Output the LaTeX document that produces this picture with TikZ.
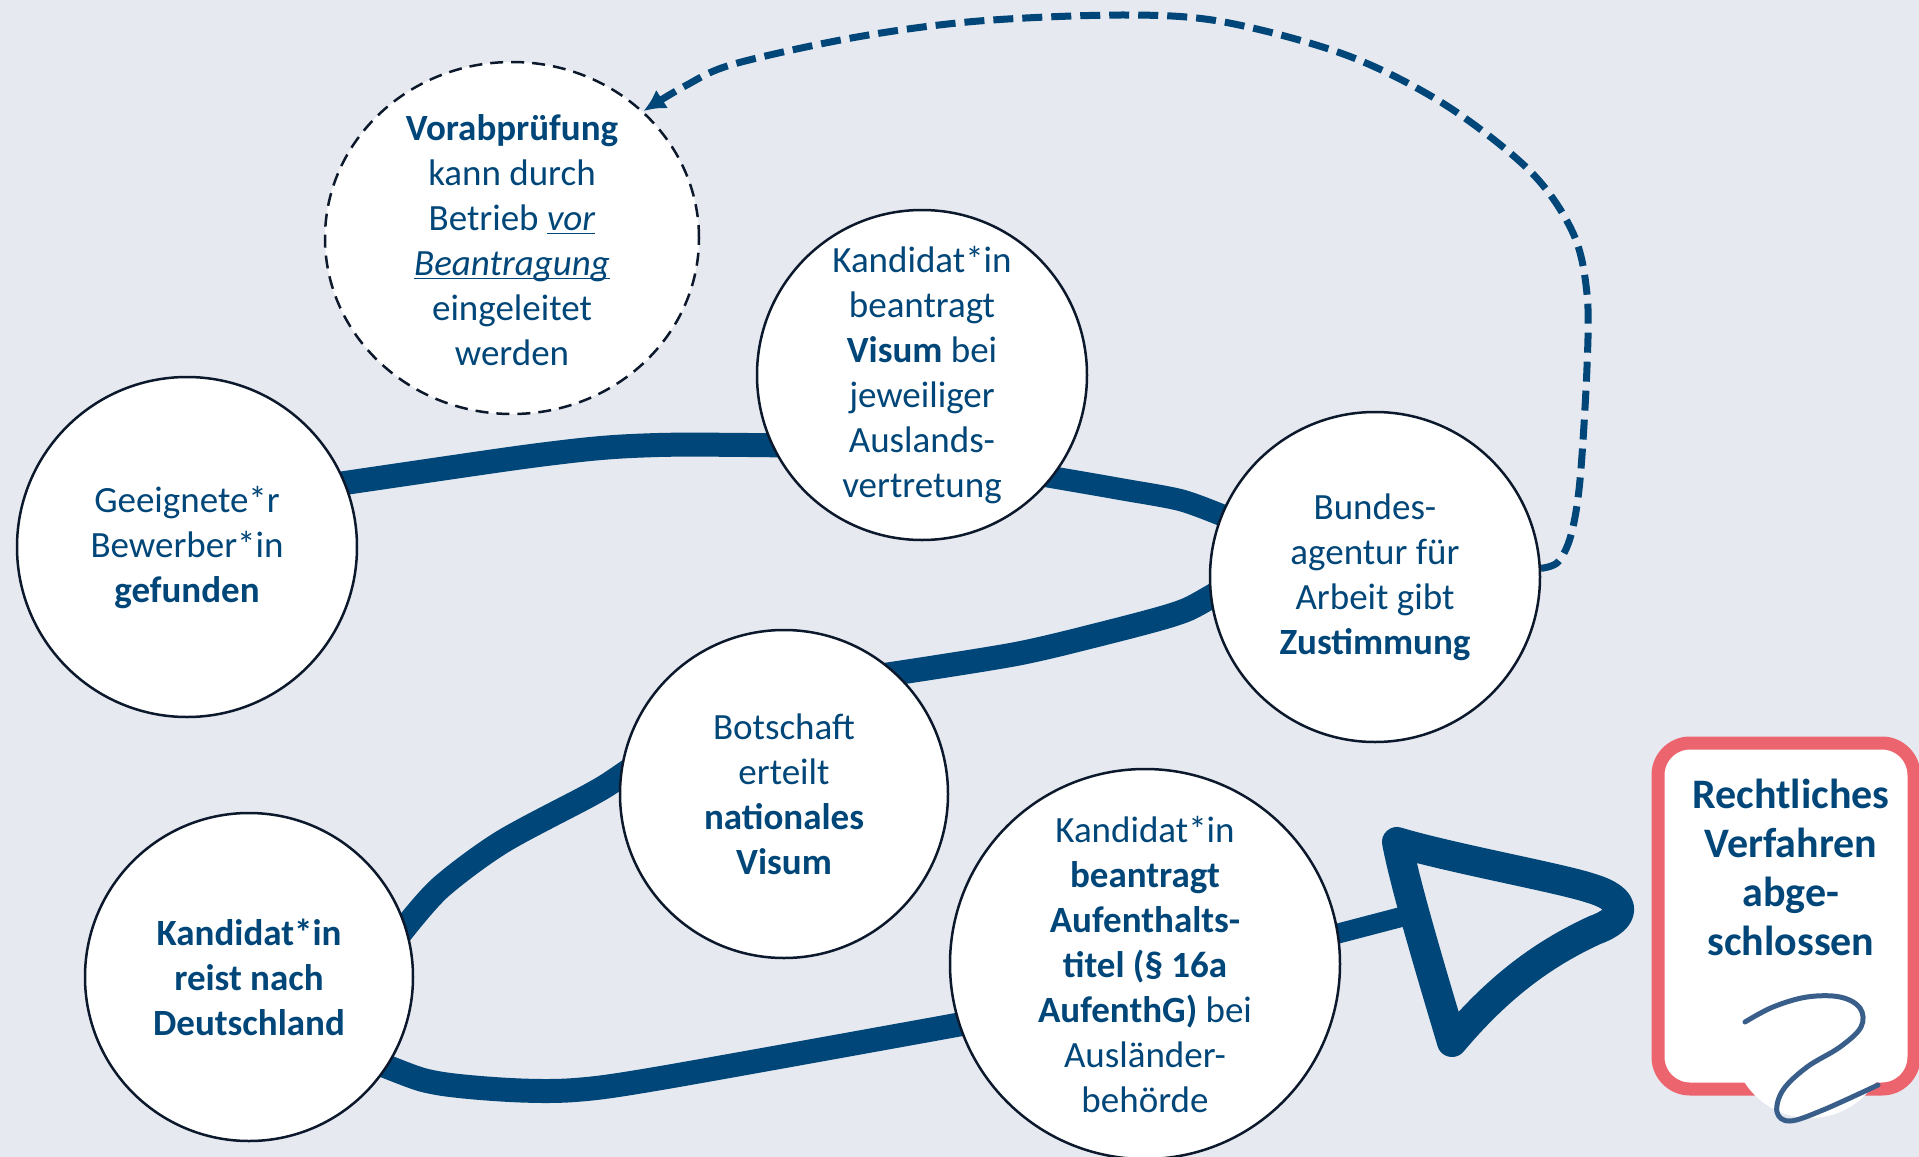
\documentclass[tikz,border=0pt]{standalone}
\usepackage{fontspec}
\setmainfont{Carlito}
\usetikzlibrary{arrows.meta,shapes.geometric}
\definecolor{bgc}{RGB}{230,233,239}
\definecolor{navy}{RGB}{0,70,120}
\definecolor{edge}{RGB}{12,24,44}
\definecolor{boxred}{RGB}{236,100,110}
\definecolor{sigblue}{RGB}{58,94,138}
\pgfdeclarelayer{bg}
\pgfsetlayers{bg,main}
\newcommand\ulx[1]{\underline{\smash{#1}}}
\begin{document}
\begin{tikzpicture}[x=0.5pt,y=-0.5pt,
  stepnode/.style={circle, draw=edge, line width=1.25pt, fill=white, inner sep=0pt,
    align=center, text=navy, font=\fontsize{18.5pt}{22.5pt}\selectfont},
  txtnode/.style={inner sep=0pt, align=center, text=navy, font=\fontsize{18.5pt}{22.5pt}\selectfont},
  conn/.style={draw=navy, line width=12pt, shorten <=-8pt, shorten >=-8pt},
  dashconn/.style={draw=navy, line width=3.5pt, dash pattern=on 10pt off 4.5pt,
    -{Latex[length=11pt,width=11pt]}},
  tristyle/.style={draw=navy, line width=15pt, line cap=round, line join=round},
]
\useasboundingbox (0,0) rectangle (1919,1157);
\begin{pgfonlayer}{bg}
  \fill[bgc] (0,0) rectangle (1919,1157);
\end{pgfonlayer}

% nodes
\node[stepnode, minimum size=170pt] (geeig) at (187,547)
  {Geeignete*r\\Bewerber*in\\\textbf{gefunden}};
\node[ellipse, draw=edge, line width=1.25pt, dash pattern=on 6.5pt off 4pt, fill=white,
  minimum width=187pt, minimum height=176pt, inner sep=0pt] (vorab) at (512,238) {};
\node[txtnode] (vorabtxt) at (512,240)
  {\textbf{Vorabprüfung}\\kann durch\\Betrieb \ulx{\textit{vor}}\\\ulx{\textit{Beantragung}}\\eingeleitet\\werden};
\node[stepnode, minimum size=165pt] (visum) at (922,375)
  {Kandidat*in\\beantragt\\\textbf{Visum} bei\\jeweiliger\\Auslands-\\vertretung};
\node[stepnode, minimum size=165pt] (bundes) at (1375,577)
  {Bundes-\\agentur für\\Arbeit gibt\\\textbf{Zustimmung}};
\node[stepnode, minimum size=164pt] (botsch) at (784,794)
  {Botschaft\\erteilt\\\textbf{nationales}\\\textbf{Visum}};
\node[stepnode, minimum size=164pt, font=\bfseries\fontsize{18.5pt}{22.5pt}\selectfont] (reist) at (249,977)
  {Kandidat*in\\reist nach\\Deutschland};
\node[stepnode, minimum size=195pt] (aufent) at (1145,964)
  {Kandidat*in\\\textbf{beantragt}\\\textbf{Aufenthalts-}\\\textbf{titel (§ 16a}\\\textbf{AufenthG)} bei\\Ausländer-\\behörde};

% final box
\node[draw=boxred, line width=6.5pt, rounded corners=16pt, fill=white,
  minimum width=128pt, minimum height=173pt, inner sep=0pt] (box) at (1786,916) {};
\node[circle, fill=white, minimum size=78pt, inner sep=0pt] (sigbg) at (1810,1040) {};
\node[inner sep=0pt, align=center, text=navy, font=\bfseries\fontsize{21pt}{24.5pt}\selectfont]
  (recht) at (1791,867) {Rechtliches\\Verfahren\\abge-\\schlossen};
\draw[sigblue, line width=2.5pt, line cap=round, line join=round]
  plot[smooth, tension=0.6] coordinates {(1745,1022) (1773,1007) (1807,997) (1840,997)
  (1860,1008) (1861,1027) (1840,1047) (1807,1067) (1783,1090) (1777,1112) (1790,1121)
  (1823,1110) (1878,1085)};

% triangle arrow
\coordinate (tA) at (1397,842);
\coordinate (tC) at (1452,1042);
\coordinate (tin) at (1405,916);
\draw[tristyle] (tC) .. controls (1432,975) and (1405,885) .. (tA)
  .. controls (1450,858) and (1560,878) .. (1590,888)
  .. controls (1628,899) and (1628,918) .. (1595,930)
  .. controls (1545,953) and (1500,985) .. (tC);

% dashed feedback arrow
\draw[dashconn] plot[smooth, tension=0.55] coordinates {(bundes.3) (1558,562) (1571,535)
  (1580,480) (1587,367) (1587,294) (1573,233) (1530,171) (1444,104) (1346,55)
  (1224,22) (1126,15) (979,21) (857,37) (734,64) (685,86) (vorab.44)};

% thick connectors
\begin{pgfonlayer}{bg}
\draw[conn] plot[smooth, tension=0.5] coordinates {(geeig.22) (563,452) (658,445) (visum.205)};
\draw[conn, line width=11pt] plot[smooth] coordinates {(visum.-38) (1120,489) (1180,500) (bundes.158)};
\draw[conn] plot[smooth] coordinates {(bundes.187) (1175,614) (1101,634) (1016,654) (botsch.47)};
\draw[conn] plot[smooth] coordinates {(botsch.174) (590,795) (502,842) (441,887) (reist.18)};
\draw[conn] plot[smooth] coordinates {(reist.-33) (437,1083) (510,1090) (575,1090) (661,1078) (aufent.198)};
\draw[conn, line width=10pt] (aufent.9) -- (tin);
\end{pgfonlayer}
\end{tikzpicture}
\end{document}
